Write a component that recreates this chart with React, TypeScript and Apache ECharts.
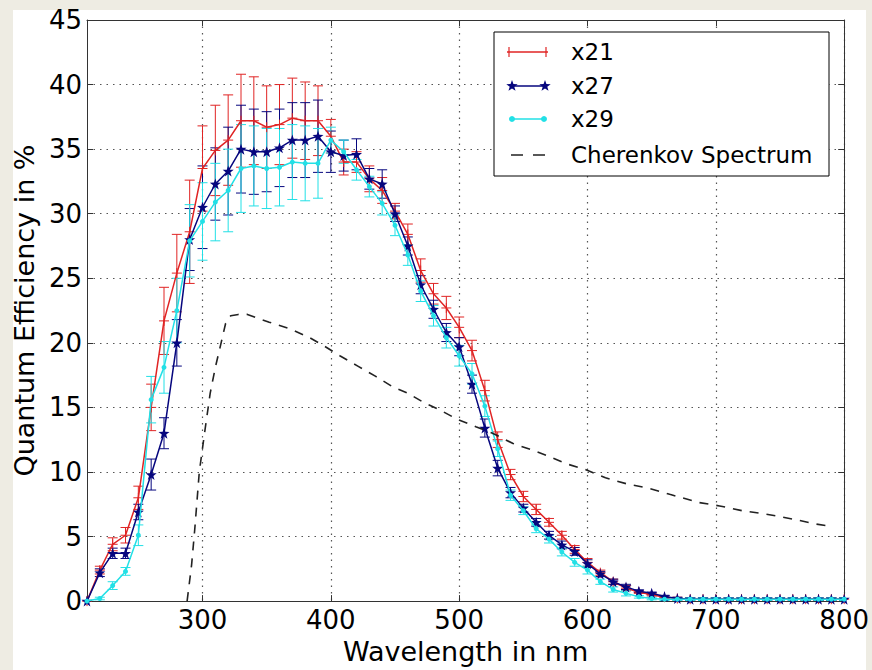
import React, { useEffect, useRef } from 'react';
import * as echarts from 'echarts';

// ---------- data ----------
const wavelengths = [210, 220, 230, 240, 250, 260, 270, 280, 290, 300, 310, 320, 330, 340, 350, 360, 370, 380, 390, 400, 410, 420, 430, 440, 450, 460, 470, 480, 490, 500, 510, 520, 530, 540, 550, 560, 570, 580, 590, 600, 610, 620, 630, 640, 650, 660, 670, 680, 690, 700, 710, 720, 730, 740, 750, 760, 770, 780, 790, 800];

const x21 = [0, 2.4, 4.4, 5.1, 8.0, 15.0, 21.7, 25.4, 28.6, 33.5, 34.9, 35.7, 37.2, 37.2, 36.7, 36.9, 37.4, 37.2, 37.2, 36.0, 34.0, 34.0, 32.7, 31.8, 30.2, 28.4, 25.6, 23.8, 22.7, 21.2, 19.4, 16.3, 12.5, 9.8, 8.1, 7.1, 6.1, 5.1, 4.0, 3.0, 2.2, 1.5, 1.0, 0.7, 0.5, 0.3, 0.2, 0.15, 0.15, 0.15, 0.15, 0.15, 0.15, 0.15, 0.15, 0.15, 0.15, 0.15, 0.15, 0.15];
const x21Err = [0, 0.3, 0.5, 0.6, 0.9, 1.8, 2.6, 3.0, 4.0, 3.3, 3.5, 3.5, 3.6, 3.4, 3.2, 3.1, 3.1, 3.0, 2.7, 1.3, 1.0, 0.8, 1.0, 1.0, 0.6, 0.8, 0.9, 0.8, 0.9, 0.8, 0.8, 0.8, 0.6, 0.4, 0.4, 0.4, 0.3, 0.3, 0.3, 0.3, 0.2, 0.2, 0.2, 0.1, 0.1, 0.1, 0.1, 0.1, 0.1, 0.1, 0.1, 0.1, 0.1, 0.1, 0.1, 0.1, 0.1, 0.1, 0.1, 0.1];

const x27 = [0, 2.2, 3.7, 3.7, 6.9, 9.8, 13.0, 20.0, 28.0, 30.5, 32.3, 33.3, 35.0, 34.8, 34.8, 35.1, 35.7, 35.7, 36.0, 34.8, 34.5, 34.6, 32.7, 32.3, 30.0, 27.5, 24.5, 22.6, 20.8, 19.7, 16.8, 13.4, 10.3, 8.4, 7.2, 6.1, 5.1, 4.35, 3.85, 2.9, 2.1, 1.5, 1.1, 0.77, 0.6, 0.35, 0.2, 0.15, 0.15, 0.15, 0.15, 0.15, 0.15, 0.15, 0.15, 0.15, 0.15, 0.15, 0.15, 0.15];
const x27Err = [0, 0.3, 0.4, 0.4, 0.6, 1.2, 1.2, 1.8, 2.4, 3.2, 2.8, 3.4, 3.4, 3.3, 3.1, 3.0, 2.9, 2.9, 2.8, 1.6, 1.2, 1.2, 0.8, 1.1, 0.6, 0.7, 0.7, 0.7, 0.7, 0.7, 0.7, 0.7, 0.6, 0.4, 0.3, 0.3, 0.3, 0.3, 0.3, 0.3, 0.2, 0.2, 0.2, 0.1, 0.1, 0.1, 0.1, 0.1, 0.1, 0.1, 0.1, 0.1, 0.1, 0.1, 0.1, 0.1, 0.1, 0.1, 0.1, 0.1];

const x29 = [0, 0.2, 1.2, 2.3, 5.1, 15.6, 18.1, 22.5, 27.9, 29.4, 30.9, 31.8, 33.5, 33.7, 33.5, 33.6, 34.0, 33.9, 33.9, 35.7, 34.8, 33.4, 32.1, 30.8, 29.1, 26.8, 24.0, 22.1, 20.4, 19.0, 17.6, 15.1, 11.8, 8.2, 7.0, 5.6, 4.8, 3.8, 3.0, 2.4, 1.5, 0.9, 0.6, 0.33, 0.2, 0.15, 0.15, 0.15, 0.15, 0.15, 0.15, 0.15, 0.15, 0.15, 0.15, 0.15, 0.15, 0.15, 0.15, 0.15];
const x29Err = [0, 0.1, 0.3, 0.3, 0.8, 1.8, 2.0, 2.5, 2.8, 3.0, 3.0, 3.2, 3.4, 3.1, 3.1, 3.0, 2.9, 2.9, 2.7, 1.0, 0.9, 0.8, 0.8, 0.9, 0.8, 0.8, 0.8, 0.8, 0.8, 0.8, 0.8, 0.8, 0.6, 0.4, 0.3, 0.3, 0.3, 0.3, 0.3, 0.3, 0.2, 0.2, 0.2, 0.1, 0.1, 0.1, 0.1, 0.1, 0.1, 0.1, 0.1, 0.1, 0.1, 0.1, 0.1, 0.1, 0.1, 0.1, 0.1, 0.1];

const cherWavelengths = [288, 291.5, 294, 297.5, 302, 306, 310, 314.5, 318, 322, 328, 335, 343, 352, 368, 383.5, 394, 407, 421, 435, 448, 460, 472, 485, 498, 513, 526, 542, 557, 570, 583, 598, 614, 632, 646, 664, 687, 703, 721, 739, 760, 778, 786];
const cherValues = [0, 2.8, 5.6, 10.0, 13.3, 16.1, 18.1, 20.0, 21.5, 22.1, 22.2, 22.2, 21.9, 21.6, 21.1, 20.4, 19.8, 19.0, 18.2, 17.4, 16.6, 16.1, 15.4, 14.8, 14.1, 13.5, 13.0, 12.2, 11.7, 11.2, 10.65, 10.2, 9.55, 9.04, 8.78, 8.27, 7.63, 7.37, 6.99, 6.74, 6.35, 5.97, 5.85];

const xTicks = [300, 400, 500, 600, 700, 800];
const seriesNames = ['x21', 'x27', 'x29', 'Cherenkov Spectrum'];

// ---------- styles ----------
const RED = '#e02424';
const NAVY = '#06067e';
const CYAN = '#22e0e6';
const FONT = 'DejaVu Sans';
const STAR = 'path://M0,-10L2.35,-3.24L9.51,-3.09L3.8,1.24L5.88,8.09L0,4L-5.88,8.09L-3.8,1.24L-9.51,-3.09L-2.35,-3.24Z';
const PLUS = 'path://M5,0L5,10M0,5L10,5';

function errSeries(color: string, vals: number[], errs: number[]) {
  return {
    type: 'custom',
    xAxisIndex: 0,
    yAxisIndex: 0,
    silent: true,
    clip: true,
    z: 2,
    encode: { x: 0, y: [1, 2] },
    data: wavelengths.map((w, i) => [w, vals[i] - errs[i], vals[i] + errs[i]]),
    renderItem: (params: any, api: any) => {
      const x = api.value(0);
      const p1 = api.coord([x, api.value(1)]);
      const p2 = api.coord([x, api.value(2)]);
      const cap = 5;
      const st = { stroke: color, lineWidth: 1 };
      return {
        type: 'group',
        children: [
          { type: 'line', shape: { x1: p1[0], y1: p1[1], x2: p2[0], y2: p2[1] }, style: st },
          { type: 'line', shape: { x1: p1[0] - cap, y1: p1[1], x2: p1[0] + cap, y2: p1[1] }, style: st },
          { type: 'line', shape: { x1: p2[0] - cap, y1: p2[1], x2: p2[0] + cap, y2: p2[1] }, style: st },
        ],
      };
    },
  };
}

function starPoints(cx: number, cy: number, r: number) {
  const pts: number[][] = [];
  for (let k = 0; k < 10; k++) {
    const rr = k % 2 === 0 ? r : r * 0.4;
    const a = -Math.PI / 2 + (k * Math.PI) / 5;
    pts.push([cx + rr * Math.cos(a), cy + rr * Math.sin(a)]);
  }
  return pts;
}

function legendGraphics() {
  const bx = 494, by = 32, bw = 335, bh = 144;
  const rows = [52, 86, 119, 155];
  const tx = 571;
  const els: any[] = [
    { type: 'rect', z: 100, shape: { x: bx, y: by, width: bw, height: bh }, style: { fill: '#fff', stroke: '#000', lineWidth: 1 } },
    // x21
    { type: 'line', z: 101, shape: { x1: 507, y1: rows[0], x2: 548, y2: rows[0] }, style: { stroke: RED, lineWidth: 1.5 } },
    { type: 'line', z: 101, shape: { x1: 509, y1: rows[0] - 5, x2: 509, y2: rows[0] + 5 }, style: { stroke: RED, lineWidth: 1.2 } },
    { type: 'line', z: 101, shape: { x1: 546, y1: rows[0] - 5, x2: 546, y2: rows[0] + 5 }, style: { stroke: RED, lineWidth: 1.2 } },
    // x27
    { type: 'line', z: 101, shape: { x1: 512, y1: rows[1], x2: 545, y2: rows[1] }, style: { stroke: NAVY, lineWidth: 1.5 } },
    { type: 'polygon', z: 102, shape: { points: starPoints(512, rows[1], 6) }, style: { fill: NAVY } },
    { type: 'polygon', z: 102, shape: { points: starPoints(545, rows[1], 6) }, style: { fill: NAVY } },
    // x29
    { type: 'line', z: 101, shape: { x1: 512, y1: rows[2], x2: 544, y2: rows[2] }, style: { stroke: CYAN, lineWidth: 1.5 } },
    { type: 'circle', z: 102, shape: { cx: 512, cy: rows[2], r: 3 }, style: { fill: CYAN } },
    { type: 'circle', z: 102, shape: { cx: 544, cy: rows[2], r: 3 }, style: { fill: CYAN } },
    // Cherenkov
    { type: 'line', z: 101, shape: { x1: 511, y1: rows[3], x2: 545, y2: rows[3] }, style: { stroke: '#222', lineWidth: 1.6, lineDash: [12, 10] } },
  ];
  seriesNames.forEach((name, i) => {
    els.push({
      type: 'text', z: 103, x: tx, y: rows[i],
      style: { text: name, fontSize: 23, fontFamily: FONT, fill: '#000', verticalAlign: 'middle', align: 'left' },
    });
  });
  return els;
}

export default function App() {
  const ref = useRef<HTMLDivElement>(null);
  useEffect(() => {
    document.body.style.margin = '0';
    if (!ref.current) return;
    const chart = echarts.init(ref.current, undefined, { renderer: 'svg' });
    const axisLineStyle = { color: '#333', width: 1 };
    const gridLine = { show: true, lineStyle: { color: '#555', width: 1.2, type: [1.5, 5] as any } };
    const option: any = {
      animation: false,
      backgroundColor: '#eeece3',
      grid: { left: 87, top: 20, width: 758, height: 586, containLabel: false },
      xAxis: [
        {
          type: 'value', min: 210, max: 800, position: 'bottom',
          axisLine: { show: true, onZero: false, lineStyle: axisLineStyle },
          axisTick: { show: true, inside: true, length: 6, customValues: xTicks, lineStyle: axisLineStyle },
          axisLabel: { customValues: xTicks, fontSize: 26, fontFamily: FONT, color: '#000', margin: 6 },
          splitLine: gridLine,
          name: 'Wavelength in nm', nameLocation: 'middle', nameGap: 36,
          nameTextStyle: { fontSize: 27, fontFamily: FONT, color: '#000' },
        },
        {
          type: 'value', min: 210, max: 800, position: 'top',
          axisLine: { show: true, onZero: false, lineStyle: axisLineStyle },
          axisTick: { show: true, inside: true, length: 6, customValues: xTicks, lineStyle: axisLineStyle },
          axisLabel: { show: false },
          splitLine: { show: false },
        },
      ],
      yAxis: [
        {
          type: 'value', min: 0, max: 45, interval: 5, position: 'left',
          axisLine: { show: true, onZero: false, lineStyle: axisLineStyle },
          axisTick: { show: true, inside: true, length: 6, lineStyle: axisLineStyle },
          axisLabel: { fontSize: 26, fontFamily: FONT, color: '#000', margin: 5 },
          splitLine: gridLine,
          name: 'Quantum Efficiency in %', nameLocation: 'middle', nameGap: 47,
          nameTextStyle: { fontSize: 27, fontFamily: FONT, color: '#000' },
        },
        {
          type: 'value', min: 0, max: 45, interval: 5, position: 'right',
          axisLine: { show: true, onZero: false, lineStyle: axisLineStyle },
          axisTick: { show: true, inside: true, length: 6, lineStyle: axisLineStyle },
          axisLabel: { show: false },
          splitLine: { show: false },
        },
      ],
      graphic: [
        { type: 'rect', z: -10, silent: true, shape: { x: 13, y: 10, width: 853, height: 660 }, style: { fill: '#ffffff' } },
        ...legendGraphics(),
      ],
      series: [
        errSeries(RED, x21, x21Err),
        {
          type: 'line', name: seriesNames[0], xAxisIndex: 0, yAxisIndex: 0, z: 3,
          data: wavelengths.map((w, i) => [w, x21[i]]),
          symbol: PLUS, symbolSize: 10, showAllSymbol: true,
          itemStyle: { color: 'none', borderColor: RED, borderWidth: 1 },
          lineStyle: { color: RED, width: 1.5 },
        },
        errSeries(NAVY, x27, x27Err),
        {
          type: 'line', name: seriesNames[1], xAxisIndex: 0, yAxisIndex: 0, z: 4,
          data: wavelengths.map((w, i) => [w, x27[i]]),
          symbol: STAR, symbolSize: 11, showAllSymbol: true,
          itemStyle: { color: NAVY },
          lineStyle: { color: NAVY, width: 1.5 },
        },
        errSeries(CYAN, x29, x29Err),
        {
          type: 'line', name: seriesNames[2], xAxisIndex: 0, yAxisIndex: 0, z: 5,
          data: wavelengths.map((w, i) => [w, x29[i]]),
          symbol: 'circle', symbolSize: 5, showAllSymbol: true,
          itemStyle: { color: CYAN },
          lineStyle: { color: CYAN, width: 1.5 },
        },
        {
          type: 'line', name: seriesNames[3], xAxisIndex: 0, yAxisIndex: 0, z: 6,
          data: cherWavelengths.map((w, i) => [w, cherValues[i]]),
          symbol: 'none',
          lineStyle: { color: '#222', width: 1.6, type: [9, 8] },
        },
      ],
    };
    chart.setOption(option);
    return () => chart.dispose();
  }, []);
  return <div ref={ref} style={{ width: 872, height: 670 }} />;
}
